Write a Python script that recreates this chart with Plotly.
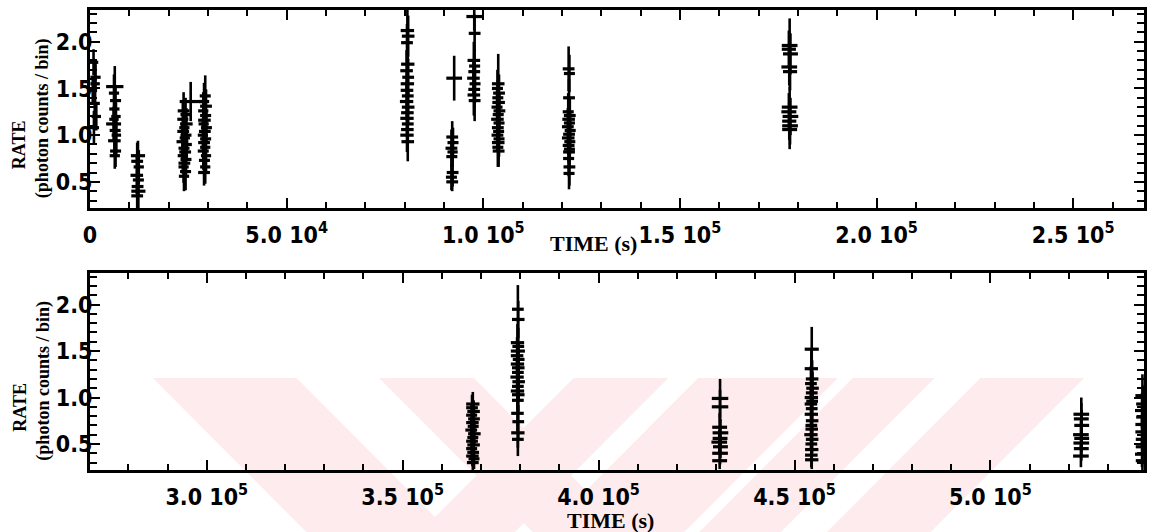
import plotly.graph_objects as go

# ---------------------------------------------------------------
# Light curve, first half of the observation (0 - 2.7e5 s)
# columns: bin centre time (s), rate, rate error, half bin width (s)
# ---------------------------------------------------------------
top_time = [
    900, 1400, 700, 1200, 1600, 1000, 1300,
    6300, 6100, 6500, 6200, 6600, 6000, 6400, 6700, 6200, 6500, 6300, 6100,
    12200, 12000, 12400, 11900, 12300, 12100, 12300, 12000,
    25600, 23800, 24300, 23600, 24500, 24000, 23700, 24400, 24100, 23500,
    24600, 23900, 24200, 23600, 24400, 24000, 23800, 24300, 23900,
    29300, 29000, 29500, 28800, 29400, 29100, 28900, 29600, 29200, 28700,
    29400, 29000, 29300, 28800, 29500, 29100, 29300, 29000,
    80700, 80900, 80600, 80800, 80500, 80900, 80700, 80600, 80800, 80500,
    80900, 80700, 80600, 80800, 80700, 80600, 80800,
    92600,
    92100, 92300, 91900, 92200, 92000, 92200, 91900, 92100,
    97700, 97800, 97600, 97800, 97700, 97500, 97900, 97700, 97600, 97800,
    103800, 103600, 104000, 103700, 103900, 103500, 104100, 103800, 103600,
    104000, 103700, 103900, 103600, 104000, 103800, 103700, 103900,
    121700, 121900, 121800, 121600, 122000, 121700, 121900, 121500, 122100,
    121800, 121600, 122000, 121700, 121900, 121800, 121700, 121900, 121800,
    177900, 177700, 178100, 177800, 178000, 177900, 177700, 178100, 177800,
    178000, 177900,
]
top_rate = [
    1.78, 1.62, 1.48, 1.34, 1.20, 1.08, 1.55,
    1.52, 1.45, 1.37, 1.28, 1.20, 1.12, 1.05, 1.00, 0.94, 0.83, 0.78, 1.17,
    0.78, 0.72, 0.66, 0.57, 0.52, 0.45, 0.40, 0.35,
    1.36, 1.26, 1.22, 1.17, 1.12, 1.08, 1.04, 1.00, 0.97, 0.93,
    0.90, 0.86, 0.82, 0.78, 0.74, 0.70, 0.66, 0.61, 0.56,
    1.42, 1.36, 1.31, 1.26, 1.21, 1.16, 1.12, 1.08, 1.04, 1.00,
    0.96, 0.92, 0.87, 0.83, 0.78, 0.73, 0.66, 0.60,
    2.12, 2.06, 1.99, 1.76, 1.69, 1.62, 1.55, 1.48, 1.42, 1.36,
    1.30, 1.24, 1.18, 1.12, 1.06, 1.00, 0.93,
    1.61,
    0.98, 0.92, 0.86, 0.82, 0.77, 0.60, 0.55, 0.50,
    2.27, 2.09, 1.80, 1.74, 1.68, 1.61, 1.55, 1.49, 1.43, 1.37,
    1.55, 1.50, 1.45, 1.40, 1.35, 1.30, 1.26, 1.22, 1.17,
    1.13, 1.08, 1.04, 1.00, 0.96, 0.92, 0.87, 0.83,
    1.71, 1.66, 1.40, 1.25, 1.21, 1.17, 1.13, 1.09, 1.05,
    1.01, 0.97, 0.93, 0.89, 0.85, 0.82, 0.75, 0.66, 0.59,
    1.96, 1.92, 1.87, 1.73, 1.68, 1.30, 1.25, 1.20, 1.15,
    1.10, 1.06,
]
top_err = [
    0.14, 0.16, 0.15, 0.17, 0.15, 0.18, 0.20,
    0.22, 0.20, 0.16, 0.17, 0.15, 0.18, 0.16, 0.20, 0.17, 0.17, 0.14, 0.14,
    0.16, 0.20, 0.18, 0.20, 0.17, 0.18, 0.18, 0.17,
    0.21, 0.20, 0.18, 0.20, 0.17, 0.19, 0.18, 0.20, 0.17, 0.19,
    0.18, 0.17, 0.18, 0.19, 0.17, 0.18, 0.17, 0.20, 0.16,
    0.22, 0.20, 0.18, 0.20, 0.19, 0.18, 0.20, 0.17, 0.19, 0.18,
    0.20, 0.18, 0.17, 0.20, 0.18, 0.17, 0.18, 0.14,
    0.25, 0.22, 0.20, 0.20, 0.22, 0.20, 0.21, 0.20, 0.19, 0.20,
    0.19, 0.18, 0.20, 0.18, 0.19, 0.18, 0.21,
    0.24,
    0.17, 0.16, 0.20, 0.16, 0.15, 0.15, 0.14, 0.10,
    0.15, 0.20, 0.20, 0.18, 0.20, 0.19, 0.20, 0.20, 0.22, 0.22,
    0.32, 0.20, 0.20, 0.19, 0.20, 0.18, 0.19, 0.20, 0.18,
    0.19, 0.18, 0.20, 0.18, 0.19, 0.18, 0.21, 0.17,
    0.24, 0.20, 0.20, 0.20, 0.19, 0.20, 0.18, 0.20, 0.19,
    0.20, 0.18, 0.19, 0.18, 0.20, 0.18, 0.19, 0.20, 0.17,
    0.29, 0.20, 0.22, 0.20, 0.20, 0.22, 0.20, 0.20, 0.20,
    0.20, 0.21,
]
top_half = [
    1200, 1300, 1100, 1300, 1200, 1300, 1200,
    2200, 1300, 1400, 1300, 1200, 1900, 1400, 1200, 1600, 1400, 1300, 1200,
    1800, 1500, 1300, 1600, 1400, 1500, 1800, 1500,
    2800, 1500, 1300, 1400, 1600, 1300, 1500, 1400, 1300, 1500,
    1300, 1400, 1500, 1300, 1400, 1500, 1300, 1400, 1300,
    1400, 1300, 1500, 1300, 1400, 1600, 1300, 1400, 1500, 1300,
    1400, 1500, 1300, 1400, 1300, 1400, 1300, 1500,
    1700, 1600, 1500, 1700, 1600, 1500, 1700, 1600, 1500, 1700,
    1600, 1600, 1700, 1500, 1600, 1700, 1600,
    2000,
    1500, 1400, 1500, 1300, 1400, 1500, 1400, 1500,
    2000, 1500, 1600, 1400, 1500, 1600, 1400, 1500, 1600, 1500,
    1600, 1400, 1500, 1400, 1600, 1400, 1500, 1400, 1600,
    1400, 1500, 1400, 1500, 1400, 1600, 1400, 1500,
    1500, 1400, 1500, 1400, 1500, 1600, 1400, 1500, 1400,
    1500, 1600, 1400, 1500, 1400, 1500, 1400, 1500, 1400,
    2000, 1800, 1900, 2000, 1800, 2000, 1900, 2000, 1800,
    2000, 1900,
]

# ---------------------------------------------------------------
# Light curve, second half of the observation (2.7e5 - 5.4e5 s)
# ---------------------------------------------------------------
bot_time = [
    367900, 367700, 368100, 367600, 368200, 367800, 368000, 367500, 368300,
    367900, 367700, 368100, 367600, 368000, 367800, 368200, 367900,
    379400, 379500, 379300, 379500, 379400, 379200, 379600, 379300, 379500,
    379400, 379200, 379600, 379400, 379300, 379500, 379400, 379300, 379500,
    379400, 379400,
    431000, 431000, 430900, 431100, 431000, 430800, 431100, 431000, 430900,
    454400, 454300, 454500, 454200, 454600, 454400, 454300, 454500, 454200,
    454400, 454300, 454500, 454300, 454400, 454200, 454500, 454300, 454400,
    454300, 454400,
    523200, 523200, 523100, 523300, 523200, 523200, 523100, 523300,
    538800, 538900, 538700, 538900, 538800, 538700, 538900, 538800, 538700,
    538800,
]
bot_rate = [
    0.93, 0.89, 0.85, 0.81, 0.77, 0.73, 0.69, 0.65, 0.61,
    0.57, 0.53, 0.49, 0.45, 0.41, 0.37, 0.34, 0.30,
    1.95, 1.84, 1.59, 1.55, 1.50, 1.45, 1.41, 1.36, 1.32,
    1.27, 1.22, 1.17, 1.12, 1.07, 1.03, 0.97, 0.83, 0.74,
    0.62, 0.55,
    0.99, 0.90, 0.68, 0.62, 0.56, 0.52, 0.47, 0.40, 0.32,
    1.52, 1.31, 1.20, 1.15, 1.10, 1.05, 1.00, 0.96, 0.93,
    0.88, 0.82, 0.75, 0.70, 0.66, 0.60, 0.55, 0.50, 0.44,
    0.38, 0.33,
    0.82, 0.77, 0.60, 0.56, 0.51, 0.45, 0.37, 0.70,
    1.02, 0.93, 0.86, 0.79, 0.71, 0.63, 0.55, 0.47, 0.39,
    0.32,
]
bot_err = [
    0.13, 0.14, 0.12, 0.13, 0.12, 0.13, 0.12, 0.13, 0.12,
    0.13, 0.12, 0.12, 0.12, 0.12, 0.11, 0.11, 0.08,
    0.26, 0.20, 0.20, 0.20, 0.19, 0.20, 0.18, 0.19, 0.18,
    0.20, 0.18, 0.19, 0.18, 0.20, 0.18, 0.19, 0.19, 0.18,
    0.16, 0.18,
    0.21, 0.18, 0.15, 0.15, 0.15, 0.13, 0.12, 0.12, 0.09,
    0.24, 0.20, 0.20, 0.19, 0.18, 0.20, 0.18, 0.19, 0.18,
    0.17, 0.18, 0.17, 0.16, 0.17, 0.15, 0.15, 0.14, 0.14,
    0.13, 0.10,
    0.18, 0.17, 0.15, 0.14, 0.14, 0.13, 0.12, 0.17,
    0.23, 0.20, 0.19, 0.18, 0.18, 0.17, 0.16, 0.15, 0.14,
    0.10,
]
bot_half = [
    1700, 1500, 1600, 1400, 1500, 1600, 1400, 1500, 1600,
    1400, 1500, 1600, 1400, 1500, 1600, 1400, 1500,
    1500, 1600, 1700, 1500, 1800, 1600, 1500, 1700, 1600,
    1500, 1700, 1600, 1500, 1700, 1600, 1500, 1600, 1500,
    1700, 1500,
    2100, 2100, 1900, 2000, 1900, 2000, 1900, 2000, 1900,
    1800, 1700, 1600, 1500, 1600, 1500, 1700, 1500, 1600,
    1500, 1700, 1600, 1500, 1600, 1700, 1600, 1500, 1700,
    1600, 1700,
    2000, 1900, 2000, 1900, 2000, 1900, 2000, 1900,
    1800, 1700, 1800, 1700, 1800, 1700, 1800, 1700, 1800,
    1700,
]

top_range = [0, 268000]
bot_range = [270200, 539200]
rate_range = [0.22, 2.34]

top_ticks = [0, 50000, 100000, 150000, 200000, 250000]
top_ticktext = ["0", "5.0 10<sup>4</sup>", "1.0 10<sup>5</sup>", "1.5 10<sup>5</sup>",
                "2.0 10<sup>5</sup>", "2.5 10<sup>5</sup>"]
bot_ticks = [300000, 350000, 400000, 450000, 500000]
bot_ticktext = ["3.0 10<sup>5</sup>", "3.5 10<sup>5</sup>", "4.0 10<sup>5</sup>",
                "4.5 10<sup>5</sup>", "5.0 10<sup>5</sup>"]
rate_ticks = [0.5, 1.0, 1.5, 2.0]
rate_ticktext = ["0.5", "1.0", "1.5", "2.0"]

# ---------------------------------------------------------------
# page geometry
# ---------------------------------------------------------------
W, H = 1150, 532
ML, MR, MT, MB = 90, 3, 10, 62
PW, PH = W - ML - MR, H - MT - MB


def px(x):
    return (x - ML) / PW


def py(y):
    return (H - MB - y) / PH


fig = go.Figure()


def add_curve(t, r, e, h, xa, ya):
    fig.add_trace(go.Scatter(
        x=t, y=r, mode="markers",
        marker=dict(size=2, color="black", opacity=0),
        error_y=dict(type="data", array=e, color="black", thickness=2.6, width=0),
        error_x=dict(type="data", array=h, color="black", thickness=3.2, width=0),
        xaxis=xa, yaxis=ya, showlegend=False, hoverinfo="skip",
    ))


add_curve(top_time, top_rate, top_err, top_half, "x", "y")
add_curve(bot_time, bot_rate, bot_err, bot_half, "x2", "y2")

tick_font = dict(family="DejaVu Sans Condensed, Liberation Sans Narrow, DejaVu Sans, sans-serif",
                 size=23, color="black", weight="bold")
axis_common = dict(
    showline=True, linecolor="black", linewidth=3, mirror="ticks",
    ticks="inside", ticklen=10, tickwidth=2, tickcolor="black",
    showgrid=False, zeroline=False, tickfont=tick_font, tickmode="array",
)


def minor_x(lo, hi):
    return dict(ticks="inside", ticklen=6, tickwidth=1.5, tickcolor="black",
                tickmode="array",
                tickvals=[v for v in range(0, 600001, 10000) if lo <= v <= hi])


rate_minor = dict(ticks="inside", ticklen=7, tickwidth=1.5, tickcolor="black",
                  tickmode="array", tickvals=[round(0.1 * i, 1) for i in range(3, 24)])

fig.update_layout(
    width=W, height=H,
    margin=dict(l=ML, r=MR, t=MT, b=MB),
    paper_bgcolor="white", plot_bgcolor="rgba(0,0,0,0)",
    showlegend=False,
    xaxis=dict(axis_common, domain=[0, 1], anchor="y", range=top_range,
               tickvals=top_ticks, ticktext=top_ticktext, ticklabelstandoff=4,
               minor=minor_x(*top_range)),
    yaxis=dict(axis_common, domain=[py(208), 1], anchor="x", range=rate_range,
               tickvals=rate_ticks, ticktext=rate_ticktext, ticklabelstandoff=-10,
               minor=rate_minor),
    xaxis2=dict(axis_common, domain=[0, 1], anchor="y2", range=bot_range,
                tickvals=bot_ticks, ticktext=bot_ticktext, ticklabelstandoff=4,
                minor=minor_x(*bot_range)),
    yaxis2=dict(axis_common, domain=[0, py(273)], anchor="x2", range=rate_range,
                tickvals=rate_ticks, ticktext=rate_ticktext, ticklabelstandoff=-10,
                minor=rate_minor),
)

# axis titles
title_font = dict(family="Liberation Serif, Times New Roman, serif", size=22, color="black")
ylab_font = dict(family="Liberation Serif, Times New Roman, serif", size=18, color="black")
for cx, cy in [(595, 244), (612, 520)]:
    fig.add_annotation(text="<b>TIME (s)</b>", x=px(cx), y=py(cy), xref="paper", yref="paper",
                       showarrow=False, xanchor="center", yanchor="middle", font=title_font)
for mid in [109, 371.5]:
    fig.add_annotation(text="<b>RATE</b>", x=px(19), y=py(mid + 36), xref="paper", yref="paper",
                       showarrow=False, textangle=-90, xanchor="center", yanchor="middle",
                       font=ylab_font)
    fig.add_annotation(text="<b>(photon counts / bin)</b>", x=px(43), y=py(mid + 9),
                       xref="paper", yref="paper", showarrow=False, textangle=-90,
                       xanchor="center", yanchor="middle", font=ylab_font)

# pale striped emblem behind the lower panel
emblem_top, emblem_bot = 378, 560
emblem = [  # (left x at top, right x at top, direction: +1 leans right going down)
    (153, 297, +1),
    (380, 475, +1),
    (575, 670, -1),
    (700, 840, -1),
    (855, 937, -1),
    (983, 1087, -1),
]
for x0, x1, d in emblem:
    dy = emblem_bot - emblem_top
    pts = [(x0, emblem_top), (x1, emblem_top), (x1 + d * dy, emblem_bot), (x0 + d * dy, emblem_bot)]
    path = "M " + " L ".join(f"{px(a):.5f},{py(b):.5f}" for a, b in pts) + " Z"
    fig.add_shape(type="path", path=path, xref="paper", yref="paper",
                  fillcolor="#fdebee", line=dict(width=0), layer="below")

fig.write_html("out.html")
